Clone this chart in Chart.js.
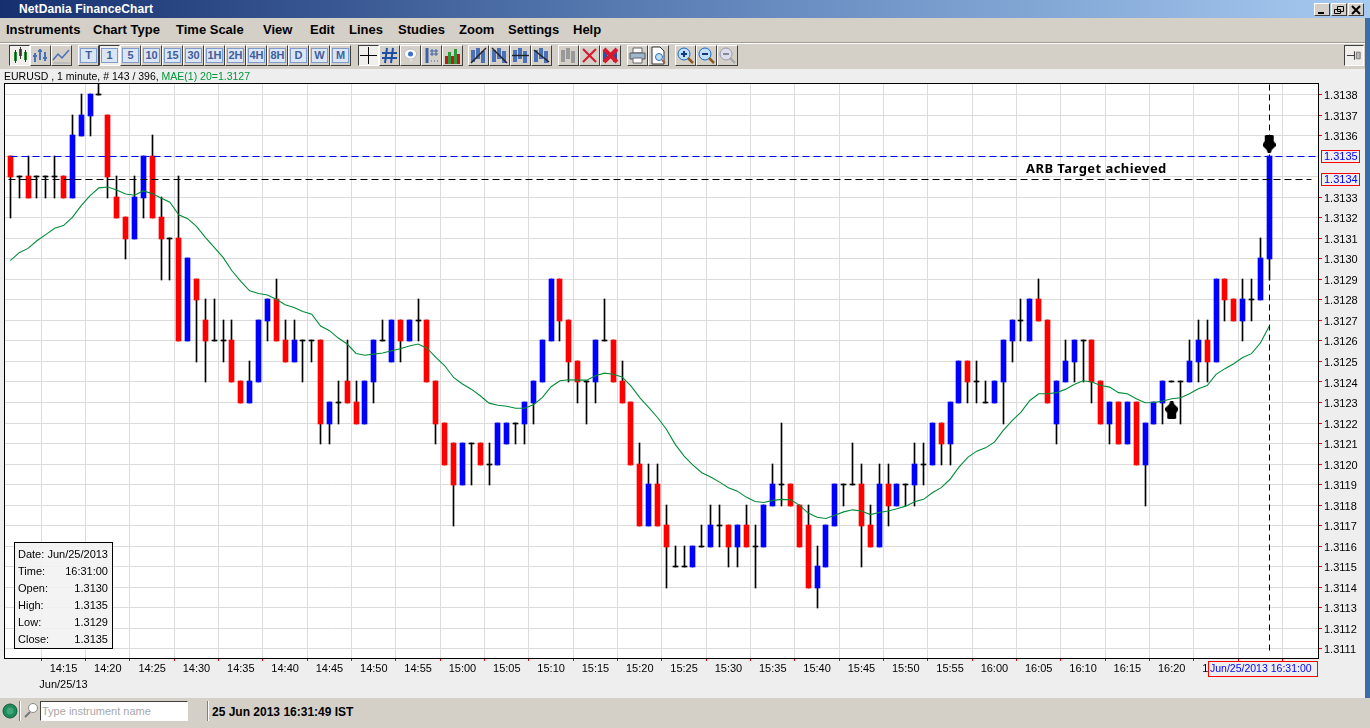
<!DOCTYPE html>
<html>
<head>
<meta charset="utf-8">
<title>NetDania FinanceChart</title>
<script src="https://cdn.jsdelivr.net/npm/chart.js@4"></script>
<style>
  html, body { margin: 0; padding: 0; width: 1370px; height: 728px; overflow: hidden; background: #eeeeee; font-family: "Liberation Sans", Arial, sans-serif; font-size: 11px; color: #000; }
  .abs { position: absolute; white-space: nowrap; }
  #titlebar { left: 0; top: 0; width: 1370px; height: 18px; background: linear-gradient(90deg, #16306f 0%, #5e82b8 50%, #a6caf0 100%); }
  #titletext { left: 19px; top: 2px; color: #fff; font: bold 12px "Liberation Sans"; letter-spacing: .1px; }
  #menubar { left: 0; top: 18px; width: 1370px; height: 24px; background: #d4d0c8; border-bottom: 1px solid #a09c94; }
  #toolbar { left: 0; top: 43px; width: 1370px; height: 26px; background: #d4d0c8; border-top: 1px solid #fff; box-sizing: border-box; }
  #status { left: 0; top: 698px; width: 1370px; height: 30px; background: #d4d0c8; }
  #stripe { left: 1365px; top: 18px; width: 5px; height: 710px; background: #3a6ea5; }
  .menu { top: 22px; font: bold 13px "Liberation Sans"; }
  .btn { position: absolute; top: 45px; height: 21px; box-sizing: border-box; background: #d4d0c8; border: 1px solid; border-color: #fff #404040 #404040 #fff; display: flex; align-items: center; justify-content: center; }
  .btn.down { border-color: #404040 #fff #fff #404040; background: #f0efec; }
  .scale { width: 17px; height: 15px; background: #dbe5f4; border: 1px solid #7f9ccc; box-sizing: border-box; color: #3f5f9c; font: bold 11px/13px "Liberation Sans"; text-align: center; }
  .winbtn { top: 3px; width: 16px; height: 13px; background: #d4d0c8; box-sizing: border-box; border: 1px solid; border-color: #fff #404040 #404040 #fff; }
  #chartbox { left: 0; top: 69px; }
  #caption { left: 4px; top: 70px; font-size: 10.5px; line-height: 13px; }
  #caption span { color: #00963c; }
  #arbtext { left: 1026px; top: 159px; font: bold 13px "Noto Sans"; letter-spacing: .45px; }
  #info { left: 14px; top: 542px; width: 99px; height: 107px; box-sizing: border-box; border: 1px solid #000; background: rgba(241,241,241,.88); }
  .inforow { position: absolute; left: 3px; right: 4px; height: 14px; line-height: 14px; display: flex; justify-content: space-between; }
  #search { left: 40px; top: 701px; width: 148px; height: 20px; box-sizing: border-box; background: #fff; border: 1px solid; border-color: #404040 #fff #fff #404040; color: #a8a8a8; font-size: 11px; line-height: 18px; padding-left: 1px; }
  #clock { left: 212px; top: 705px; font: bold 12px "Liberation Sans"; }
  .sep { top: 701px; width: 1px; height: 20px; background: #808080; border-right: 1px solid #fff; }
</style>
</head>
<body>
<div class="abs" id="titlebar"></div>
<div class="abs" id="titletext">NetDania FinanceChart</div>
<div class="abs" id="menubar"></div>
<div class="abs" id="toolbar"></div>
<div class="abs" id="stripe"></div>
<div class="abs" id="chartbox"><canvas id="graficoEur" width="1365" height="629"></canvas></div>
<div class="abs" id="caption">EURUSD , 1 minute, # 143 / 396, <span>MAE(1) 20=1.3127</span></div>
<div class="abs" id="arbtext">ARB Target achieved</div>
<div class="abs" id="info"></div>
<div class="abs" id="status"></div>
<div class="abs" id="search">Type instrument name</div>
<div class="abs" id="clock">25 Jun 2013 16:31:49 IST</div>
<div class="abs sep" style="left:19px"></div>
<div class="abs sep" style="left:207px"></div>
<svg class="abs" style="left:2px;top:703px" width="16" height="16"><circle cx="8" cy="8" r="7" fill="#1f8a5a" stroke="#0d5c38"/><circle cx="8" cy="8" r="3.5" fill="#3fa878"/></svg>
<svg class="abs" style="left:24px;top:702px" width="15" height="17"><circle cx="9" cy="6" r="4.5" fill="#fff" stroke="#888"/><path d="M6 10 L1 15" stroke="#777" stroke-width="2"/></svg>

<script>
// Candles, one per minute
const opens = [
  1.3135,1.3134,1.3134,1.3134,1.3134,1.3134,1.3134,1.3133,1.3136,1.3137,
  1.3138,1.3137,1.3133,1.3132,1.3131,1.3133,1.3135,1.3132,1.3131,1.3131,
  1.3126,1.3129,1.3127,1.3126,1.3126,1.3126,1.3124,1.3123,1.3124,1.3127,
  1.3128,1.3126,1.3125,1.3126,1.3126,1.3126,1.3122,1.3123,1.3124,1.3123,
  1.3122,1.3124,1.3126,1.3125,1.3127,1.3126,1.3127,1.3127,1.3124,1.3122,
  1.3121,1.3119,1.3121,1.3121,1.3120,1.3120,1.3121,1.3122,1.3122,1.3123,
  1.3124,1.3126,1.3129,1.3127,1.3125,1.3124,1.3124,1.3126,1.3126,1.3124,
  1.3123,1.3120,1.3117,1.3119,1.3117,1.3115,1.3115,1.3115,1.3116,1.3116,
  1.3117,1.3117,1.3116,1.3117,1.3116,1.3116,1.3118,1.3119,1.3119,1.3118,
  1.3117,1.3114,1.3115,1.3117,1.3119,1.3119,1.3119,1.3117,1.3116,1.3119,
  1.3118,1.3119,1.3119,1.3120,1.3120,1.3122,1.3121,1.3123,1.3125,1.3124,
  1.3123,1.3123,1.3124,1.3126,1.3127,1.3126,1.3128,1.3127,1.3122,1.3124,
  1.3125,1.3126,1.3126,1.3124,1.3122,1.3123,1.3121,1.3123,1.3120,1.3122,
  1.3123,1.3124,1.3124,1.3124,1.3125,1.3126,1.3125,1.3129,1.3128,1.3127,
  1.3128,1.3128,1.3130
];
const closes = [
  1.3134,1.3134,1.3133,1.3134,1.3134,1.3134,1.3133,1.3136,1.3137,1.3138,
  1.3138,1.3134,1.3132,1.3131,1.3133,1.3135,1.3132,1.3131,1.3131,1.3126,
  1.3130,1.3128,1.3126,1.3126,1.3126,1.3124,1.3123,1.3124,1.3127,1.3128,
  1.3126,1.3125,1.3126,1.3126,1.3126,1.3122,1.3123,1.3123,1.3123,1.3122,
  1.3124,1.3126,1.3126,1.3127,1.3126,1.3127,1.3127,1.3124,1.3122,1.3120,
  1.3119,1.3121,1.3121,1.3120,1.3120,1.3122,1.3122,1.3122,1.3123,1.3124,
  1.3126,1.3129,1.3127,1.3125,1.3124,1.3124,1.3126,1.3126,1.3124,1.3123,
  1.3120,1.3117,1.3119,1.3117,1.3116,1.3115,1.3115,1.3116,1.3116,1.3117,
  1.3117,1.3116,1.3117,1.3116,1.3116,1.3118,1.3119,1.3119,1.3118,1.3116,
  1.3114,1.3115,1.3117,1.3119,1.3119,1.3119,1.3117,1.3116,1.3119,1.3118,
  1.3119,1.3119,1.3120,1.3120,1.3122,1.3121,1.3123,1.3125,1.3124,1.3124,
  1.3123,1.3124,1.3126,1.3127,1.3127,1.3128,1.3127,1.3123,1.3124,1.3125,
  1.3126,1.3126,1.3124,1.3122,1.3123,1.3121,1.3123,1.3120,1.3122,1.3123,
  1.3124,1.3124,1.3124,1.3125,1.3126,1.3125,1.3129,1.3128,1.3127,1.3128,
  1.3128,1.3130,1.3135
];
const highs = [
  1.3135,1.3134,1.3135,1.3134,1.3134,1.3135,1.3134,1.3137,1.3138,1.3138,
  1.3139,1.3137,1.3134,1.3132,1.3134,1.3135,1.3136,1.3133,1.3131,1.3134,
  1.3130,1.3129,1.3128,1.3128,1.3127,1.3127,1.3124,1.3125,1.3127,1.3128,
  1.3129,1.3127,1.3127,1.3126,1.3126,1.3126,1.3123,1.3124,1.3126,1.3124,
  1.3124,1.3126,1.3127,1.3127,1.3127,1.3127,1.3128,1.3127,1.3124,1.3122,
  1.3121,1.3121,1.3121,1.3121,1.3121,1.3122,1.3122,1.3122,1.3123,1.3124,
  1.3126,1.3129,1.3129,1.3127,1.3125,1.3124,1.3126,1.3128,1.3126,1.3125,
  1.3123,1.3121,1.3120,1.3120,1.3118,1.3116,1.3116,1.3116,1.3117,1.3118,
  1.3118,1.3117,1.3117,1.3118,1.3117,1.3118,1.3120,1.3122,1.3119,1.3118,
  1.3118,1.3116,1.3117,1.3119,1.3119,1.3121,1.3120,1.3118,1.3120,1.3120,
  1.3119,1.3119,1.3121,1.3121,1.3122,1.3122,1.3123,1.3125,1.3125,1.3125,
  1.3124,1.3124,1.3126,1.3127,1.3128,1.3128,1.3129,1.3127,1.3124,1.3126,
  1.3126,1.3126,1.3126,1.3124,1.3123,1.3123,1.3123,1.3123,1.3122,1.3123,
  1.3124,1.3124,1.3124,1.3126,1.3127,1.3127,1.3129,1.3129,1.3128,1.3129,
  1.3129,1.3131,1.3135
];
const lows = [
  1.3132,1.3133,1.3133,1.3133,1.3133,1.3133,1.3133,1.3133,1.3136,1.3136,
  1.3138,1.3133,1.3132,1.3130,1.3131,1.3132,1.3132,1.3129,1.3129,1.3126,
  1.3126,1.3125,1.3124,1.3126,1.3125,1.3124,1.3123,1.3123,1.3124,1.3126,
  1.3126,1.3125,1.3125,1.3124,1.3125,1.3121,1.3121,1.3122,1.3123,1.3122,
  1.3122,1.3123,1.3126,1.3125,1.3125,1.3126,1.3126,1.3124,1.3121,1.3120,
  1.3117,1.3119,1.3119,1.3120,1.3119,1.3120,1.3121,1.3121,1.3121,1.3122,
  1.3124,1.3126,1.3126,1.3124,1.3123,1.3122,1.3123,1.3126,1.3124,1.3123,
  1.3120,1.3117,1.3117,1.3117,1.3114,1.3115,1.3115,1.3115,1.3116,1.3116,
  1.3116,1.3115,1.3115,1.3116,1.3114,1.3116,1.3118,1.3118,1.3118,1.3116,
  1.3114,1.3113,1.3115,1.3117,1.3118,1.3119,1.3115,1.3116,1.3116,1.3117,
  1.3118,1.3118,1.3118,1.3119,1.3120,1.3120,1.3120,1.3123,1.3123,1.3123,
  1.3123,1.3123,1.3122,1.3125,1.3126,1.3126,1.3127,1.3123,1.3121,1.3124,
  1.3124,1.3124,1.3123,1.3122,1.3121,1.3121,1.3121,1.3120,1.3118,1.3122,
  1.3122,1.3124,1.3122,1.3124,1.3124,1.3124,1.3125,1.3127,1.3127,1.3126,
  1.3127,1.3128,1.3129
];
// Green MAE(1) 20 line, one reading per candle
const maeValues = [
  1.312991,1.313030,1.313051,1.313088,1.313118,1.313149,1.313162,1.313202,1.313259,1.313308,
  1.313346,1.313350,1.313336,1.313316,1.313310,1.313331,1.313318,1.313297,1.313276,1.313215,
  1.313196,1.313158,1.313105,1.313056,1.313007,1.312942,1.312890,1.312844,1.312831,1.312824,
  1.312803,1.312776,1.312763,1.312743,1.312730,1.312673,1.312650,1.312614,1.312585,1.312539,
  1.312530,1.312536,1.312541,1.312552,1.312562,1.312575,1.312585,1.312565,1.312520,1.312479,
  1.312422,1.312390,1.312365,1.312333,1.312297,1.312287,1.312282,1.312272,1.312272,1.312289,
  1.312324,1.312377,1.312406,1.312411,1.312409,1.312409,1.312430,1.312443,1.312438,1.312425,
  1.312381,1.312324,1.312276,1.312227,1.312170,1.312096,1.312039,1.311995,1.311958,1.311937,
  1.311912,1.311885,1.311868,1.311839,1.311818,1.311813,1.311823,1.311828,1.311826,1.311800,
  1.311761,1.311741,1.311735,1.311751,1.311767,1.311777,1.311771,1.311754,1.311764,1.311771,
  1.311782,1.311795,1.311816,1.311828,1.311860,1.311885,1.311926,1.311985,1.312033,1.312063,
  1.312079,1.312107,1.312164,1.312212,1.312253,1.312310,1.312343,1.312343,1.312348,1.312364,
  1.312388,1.312406,1.312400,1.312383,1.312375,1.312348,1.312343,1.312318,1.312299,1.312300,
  1.312307,1.312318,1.312323,1.312343,1.312367,1.312383,1.312437,1.312465,1.312489,1.312519,
  1.312538,1.312590,1.312672
];

// Axis tick labels
const yTicks = [1.3138,1.3137,1.3136,1.3135,1.3134,1.3133,1.3132,1.3131,1.3130,1.3129,1.3128,1.3127,1.3126,1.3125,1.3124,1.3123,1.3122,1.3121,1.3120,1.3119,1.3118,1.3117,1.3116,1.3115,1.3114,1.3113,1.3112,1.3111];
const xTickLabels = ["14:15","14:20","14:25","14:30","14:35","14:40","14:45","14:50","14:55","15:00","15:05","15:10","15:15","15:20","15:25","15:30","15:35","15:40","15:45","15:50","15:55","16:00","16:05","16:10","16:15","16:20","16:25","16:30","16:35"];
const xTickBars = [6,11,16,21,26,31,36,41,46,51,56,61,66,71,76,81,86,91,96,101,106,111,116,121,126,131,136,141,146];
const dateLabel = "Jun/25/13";

// Lines and labels placed on the chart
const targetPrice = 1.3135;
const entryPrice = 1.313387;
const cursorBar = 142;
const cursorLabel = "Jun/25/2013 16:31:00";
const arrowBars = [142, 131];
const arrowPrices = [1.31356, 1.312263];

// Readout box
const infoLabels = ["Date:","Time:","Open:","High:","Low:","Close:"];
const infoValues = ["Jun/25/2013","16:31:00","1.3130","1.3135","1.3129","1.3135"];

// Window furniture
const menuLabels = ["Instruments","Chart Type","Time Scale","View","Edit","Lines","Studies","Zoom","Settings","Help"];
const menuLefts = [6,93,176,263,310,349,398,459,508,573];
const scaleLabels = ["T","1","5","10","15","30","1H","2H","4H","8H","D","W","M"];

// ---- window chrome ----
function addButton(left, width, inner, down) {
  const b = document.createElement("div");
  b.className = "btn" + (down ? " down" : "");
  b.style.left = left + "px";
  b.style.width = width + "px";
  b.innerHTML = inner;
  document.body.appendChild(b);
}
function svg(body) {
  return '<svg width="19" height="19" viewBox="0 0 19 19">' + body + "</svg>";
}

menuLabels.forEach((t, i) => {
  const m = document.createElement("div");
  m.className = "abs menu";
  m.style.left = menuLefts[i] + "px";
  m.textContent = t;
  document.body.appendChild(m);
});

const blueBars = '<path d="M4 4v12M9 2v11M14 5v12" stroke="#4a70b8" stroke-width="4"/>';
addButton(9, 21, svg('<path d="M4 6h3v9H4z" fill="#2d8a3a"/><path d="M9 3h3v7H9z" fill="#c03020"/><path d="M14 6h3v8h-3z" fill="#2d8a3a"/><path d="M5.5 4v13M10.5 1v12M15.5 4v12" stroke="#333"/>'), true);
addButton(30, 21, svg('<path d="M4 7v9M2 10h4M9 3v11M7 5h4M14 6v9M12 12h4" stroke="#4a70b8" stroke-width="2" fill="none"/>'));
addButton(51, 21, svg('<path d="M1 14L6 8l4 4 7-8" stroke="#4a70b8" stroke-width="1.5" fill="none"/><path d="M1 17h17" stroke="#aaa"/>'));
scaleLabels.forEach((t, i) => addButton(78 + i * 21, 21, '<div class="scale">' + t + "</div>", t === "1"));
addButton(358, 21, svg('<path d="M9.5 1v17M1 9.5h17" stroke="#000"/>'), true);
addButton(379, 21, svg('<path d="M7 2L5 17M13 2l-2 15M2 7h15M2 12h15" stroke="#1c4fa8" stroke-width="2"/>'));
addButton(400, 21, svg('<ellipse cx="9.5" cy="8" rx="6" ry="5" fill="#fff" stroke="#bbb"/><circle cx="9.5" cy="8" r="2.5" fill="#3a70c8"/><path d="M8 13l2 4 2-4" fill="#ddd"/>'));
addButton(421, 21, svg('<path d="M5 2v15" stroke="#3a60a8" stroke-width="3"/><path d="M10 3v7M14 3v7M8 5h8M8 8h8" stroke="#3a60a8"/><path d="M9 15h1M12 15h1M15 15h1" stroke="#3a60a8"/>'));
addButton(442, 21, svg('<path d="M2 10h3v8H2zM8 10h3v8H8zM14 8h3v10h-3z" fill="#c01818"/><path d="M5 6h3v12H5zM11 3h3v15h-3z" fill="#2a9a3a"/>'));
addButton(468, 21, svg(blueBars + '<path d="M2 17L17 2" stroke="#222" stroke-width="1.4"/>'));
addButton(489, 21, svg(blueBars + '<path d="M2 2l15 15" stroke="#222" stroke-width="1.4"/>'));
addButton(510, 21, svg(blueBars + '<path d="M1 9.5h17" stroke="#222" stroke-width="1.4"/>'));
addButton(531, 21, svg(blueBars + '<path d="M2 4l15 12" stroke="#222" stroke-width="1.4"/>'));
addButton(558, 21, svg('<path d="M4 4v12M9 2v11M14 5v12" stroke="#999" stroke-width="4"/>'));
addButton(579, 21, svg('<path d="M3 3l13 13M16 3L3 16" stroke="#d81830" stroke-width="2"/>'));
addButton(600, 21, svg('<path d="M4 4v12M14 4v12" stroke="#2a50a0" stroke-width="4"/><path d="M3 3l13 13M16 3L3 16" stroke="#d81830" stroke-width="4"/>'));
addButton(627, 21, svg('<path d="M5 2h9v5H5z" fill="#fff" stroke="#666"/><path d="M2 7h15v6H2z" fill="#9fb8cc" stroke="#556"/><path d="M5 12h9v5H5z" fill="#fff" stroke="#666"/>'));
addButton(648, 21, svg('<path d="M3 1h8l4 4v13H3z" fill="#fff" stroke="#333"/><circle cx="10" cy="11" r="3.5" fill="#bfe0f8" stroke="#2c6cc0"/><path d="M13 14l3 3" stroke="#964" stroke-width="2"/>'));
const lens = (c, sign) => svg('<circle cx="8" cy="8" r="6" fill="' + c + '" stroke="#1c68c8"/><path d="' + sign + '" stroke="#123a80" stroke-width="2"/><path d="M12 12l5 5" stroke="#8a5a20" stroke-width="2.5"/>');
addButton(675, 21, lens("#bfe0f8", "M5 8h6M8 5v6"));
addButton(696, 21, lens("#bfe0f8", "M5 8h6"));
addButton(717, 21, svg('<circle cx="8" cy="8" r="6" fill="#dde" stroke="#99a"/><path d="M5 8h6" stroke="#889" stroke-width="2"/><path d="M12 12l5 5" stroke="#aaa" stroke-width="2.5"/>'));
addButton(1344, 20, svg('<path d="M2 9.5h8M10 5v9" stroke="#333"/><path d="M12 6v7h4V6z" fill="#bbb" stroke="#777"/>'), true);

// Minimise, restore, close
[
  [1314, '<path d="M3 9h6" stroke="#000" stroke-width="2"/>'],
  [1331, '<path d="M5.5 2.5h6v5h-6zM2.5 5.5h6v4h-6z" fill="#d4d0c8" stroke="#000"/>'],
  [1348, '<path d="M3 2l8 8M11 2l-8 8" stroke="#000" stroke-width="2"/>']
].forEach(([left, body]) => {
  const w = document.createElement("div");
  w.className = "abs winbtn";
  w.style.left = left + "px";
  w.innerHTML = '<svg width="14" height="11" style="display:block">' + body + "</svg>";
  document.body.appendChild(w);
});

infoLabels.forEach((t, i) => {
  const r = document.createElement("div");
  r.className = "inforow";
  r.style.top = (4 + i * 17) + "px";
  r.innerHTML = "<span>" + t + "</span><span>" + infoValues[i] + "</span>";
  document.getElementById("info").appendChild(r);
});

// ---- arrows used as point images ----
function arrowImage(pointsDown) {
  const c = document.createElement("canvas");
  c.width = 13; c.height = 18;
  const g = c.getContext("2d");
  if (!pointsDown) { g.translate(0, 18); g.scale(1, -1); }
  g.fillStyle = "#000";
  g.beginPath();
  g.moveTo(2, 1); g.lineTo(3, 0); g.lineTo(10, 0); g.lineTo(11, 1);
  g.lineTo(11, 6); g.lineTo(13, 9); g.lineTo(13, 11); g.lineTo(9, 15);
  g.lineTo(8, 18); g.lineTo(5, 18); g.lineTo(4, 15); g.lineTo(0, 11);
  g.lineTo(0, 9); g.lineTo(2, 6);
  g.closePath();
  g.fill();
  return c;
}

// ---- plugins ----
// Same pixel rule Chart.js uses for grid lines, so bars and dashed lines sit on the grid rows
const gridRow = (y) => Math.round(y - 0.5);

// The original is drawn on whole pixels, so marks are snapped after the scales placed them
const snapPlugin = {
  id: "snap",
  afterDatasetsUpdate(chart) {
    chart.getSortedVisibleDatasetMetas().forEach((meta) => {
      if (meta.type === "bar") {
        meta.data.forEach((el) => {
          el.x = Math.floor(el.x) + 0.5;
          const top = gridRow(Math.min(el.y, el.base));
          const bottom = gridRow(Math.max(el.y, el.base)) + 1;
          el.y = top;
          el.base = bottom;
        });
      } else if (chart.data.datasets[meta.index].snapLine) {
        meta.data.forEach((el) => {
          el.x = Math.floor(el.x) + 0.5;
          el.y = gridRow(el.y) + 0.5;
        });
      }
    });
  }
};

const framePlugin = {
  id: "frame",
  beforeDraw(chart) {
    const { ctx, chartArea: a } = chart;
    ctx.save();
    ctx.fillStyle = "#ffffff";
    ctx.fillRect(a.left, a.top, a.right - a.left, a.bottom - a.top);
    ctx.restore();
  },
  afterDraw(chart) {
    const { ctx, chartArea: a, scales } = chart;
    ctx.save();
    ctx.strokeStyle = "#000000";
    ctx.lineWidth = 1;
    ctx.strokeRect(a.left + 0.5, a.top + 0.5, a.right - a.left, a.bottom - a.top);

    // Boxed price labels on the right
    ctx.font = "11px 'Liberation Sans'";
    ctx.textBaseline = "middle";
    [targetPrice, entryPrice].forEach((price) => {
      const y = gridRow(scales.y.getPixelForValue(price));
      ctx.fillStyle = "#eeeeee";
      ctx.fillRect(1321, y - 6, 39, 12);
      ctx.strokeStyle = "#ff0000";
      ctx.strokeRect(1321.5, y - 5.5, 38, 12);
      ctx.fillStyle = "#0000ff";
      ctx.textAlign = "left";
      ctx.fillText(price.toFixed(4), 1324, y + 1);
    });

    // Boxed time of the cursor under the axis
    const bottom = a.bottom;
    ctx.font = "10.5px 'Liberation Sans'";
    ctx.fillStyle = "#eeeeee";
    ctx.fillRect(1208, bottom + 3, 110, 16);
    ctx.strokeStyle = "#ff0000";
    ctx.strokeRect(1208.5, bottom + 3.5, 109, 15);
    ctx.fillStyle = "#0000ff";
    ctx.fillText(cursorLabel, 1210, bottom + 11.5);
    ctx.restore();
  }
};

// ---- chart ----
const bars = opens.map((_, i) => i);
const bodyColors = opens.map((o, i) => closes[i] > o ? "#0000ff" : closes[i] < o ? "#ff0000" : "#000000");

const ctx = document.getElementById("graficoEur").getContext("2d");
new Chart(ctx, {
  type: "bar",
  data: {
    datasets: [
      {
        label: "Wicks",
        data: bars.map((i) => ({ x: i, y: [lows[i], highs[i]] })),
        backgroundColor: "#000000",
        barThickness: 1,
        grouped: false,
        order: 6
      },
      {
        label: "Bodies",
        data: bars.map((i) => ({ x: i, y: [opens[i], closes[i]] })),
        backgroundColor: bodyColors,
        barThickness: 5,
        grouped: false,
        order: 5
      },
      {
        type: "line",
        label: "MAE(1) 20",
        data: bars.map((i) => ({ x: i, y: maeValues[i] })),
        borderColor: "#008c37",
        borderWidth: 1.1,
        pointRadius: 0,
        tension: 0,
        order: 4
      },
      {
        type: "line",
        label: "Target",
        data: [{ x: 0, y: targetPrice }, { x: 147.5, y: targetPrice }],
        borderColor: "#0000ff",
        borderWidth: 1,
        borderDash: [7, 4],
        pointRadius: 0,
        snapLine: true,
        order: 3
      },
      {
        type: "line",
        label: "Entry",
        data: [{ x: -0.2, y: entryPrice }, { x: 146.8, y: entryPrice }],
        borderColor: "#000000",
        borderWidth: 1,
        borderDash: [7, 4],
        pointRadius: 0,
        snapLine: true,
        order: 2
      },
      {
        type: "line",
        label: "Cursor",
        data: [{ x: cursorBar, y: 1.31385 }, { x: cursorBar, y: 1.31107 }],
        borderColor: "#000000",
        borderWidth: 1,
        borderDash: [6, 4],
        pointRadius: 0,
        snapLine: true,
        order: 1
      },
      {
        type: "line",
        label: "Arrows",
        data: arrowBars.map((b, i) => ({ x: b, y: arrowPrices[i] })),
        showLine: false,
        pointRadius: 9,
        pointStyle: [arrowImage(true), arrowImage(false)],
        order: 0
      }
    ]
  },
  options: {
    responsive: false,
    devicePixelRatio: 1,
    animation: false,
    events: [],
    layout: { autoPadding: false, padding: { left: 4, top: 14, right: 0, bottom: 0 } },
    plugins: { legend: { display: false }, tooltip: { enabled: false } },
    scales: {
      x: {
        type: "linear",
        min: -0.71,
        max: 147.5,
        offset: false,
        afterBuildTicks: (scale) => { scale.ticks = xTickBars.map((v) => ({ value: v })); },
        afterFit: (scale) => { scale.height = 40; },
        ticks: {
          autoSkip: false,
          maxRotation: 0,
          color: "#000000",
          padding: 0,
          font: { family: "'Liberation Sans'", size: 11, lineHeight: "16px" },
          callback: (value, index) => index === 0 ? [xTickLabels[0], dateLabel] : xTickLabels[index]
        },
        grid: { color: "#dcdcdc", tickColor: "#ff0000", tickLength: 3 },
        border: { display: false }
      },
      y: {
        position: "right",
        min: 1.311055,
        max: 1.313857,
        afterBuildTicks: (scale) => { scale.ticks = yTicks.map((v) => ({ value: v })); },
        afterFit: (scale) => { scale.width = 47; },
        ticks: {
          autoSkip: false,
          color: "#000000",
          padding: 2,
          // an empty first line pushes the text down to where the original prints it
          font: { family: "'Liberation Sans'", size: 11, lineHeight: "3px" },
          callback: (value) => (value === 1.3135 || value === 1.3134) ? "" : ["", value.toFixed(4)]
        },
        grid: {
          color: "#dcdcdc",
          tickLength: 4,
          tickColor: (c) => (c.tick && (c.tick.value === 1.3135 || c.tick.value === 1.3134)) ? "rgba(0,0,0,0)" : "#ff0000"
        },
        border: { display: false }
      }
    }
  },
  plugins: [snapPlugin, framePlugin]
});
</script>
</body>
</html>
